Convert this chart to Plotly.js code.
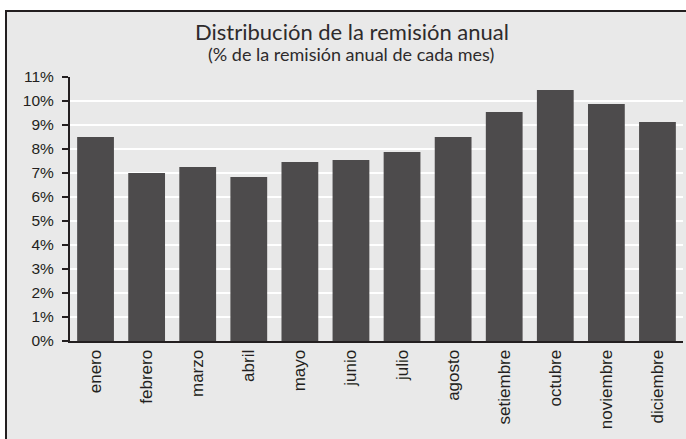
<!DOCTYPE html>
<html>
<head>
<meta charset="utf-8">
<script src="https://cdn.plot.ly/plotly-3.0.1.min.js"></script>
<style>
html, body { margin: 0; padding: 0; background: #ffffff; }
#frame { position: absolute; left: 5px; top: 10px; width: 700px; height: 450px;
  background: #e9e9e9; border-left: 2px solid #231f20; border-top: 2px solid #231f20; }
#chart { position: absolute; left: 0; top: 0; width: 686px; height: 439px; }
</style>
</head>
<body>
<div id="frame"></div>
<div id="chart"></div>
<script>
var months = ["enero", "febrero", "marzo", "abril", "mayo", "junio", "julio",
  "agosto", "setiembre", "octubre", "noviembre", "diciembre"];
var shares = [8.5, 7.0, 7.25, 6.83, 7.46, 7.54, 7.88, 8.5, 9.54, 10.46, 9.88, 9.13];
var yTicks = [0, 1, 2, 3, 4, 5, 6, 7, 8, 9, 10, 11];
var titleText = "Distribución de la remisión anual";
var subtitleText = "(% de la remisión anual de cada mes)";

var trace = {
  type: "bar",
  x: months,
  y: shares,
  marker: { color: "#4d4b4c", line: { width: 0 } },
  hoverinfo: "x+y"
};

var layout = {
  width: 686,
  height: 439,
  margin: { l: 70, r: 3, t: 77, b: 98 },
  paper_bgcolor: "rgba(0,0,0,0)",
  plot_bgcolor: "rgba(0,0,0,0)",
  showlegend: false,
  bargap: 0.28,
  font: { family: "Liberation Sans, Arial, sans-serif", color: "#231f20" },
  title: {
    text: titleText,
    font: { family: "Lato, sans-serif", size: 22, weight: 400, color: "#2e2b2c" },
    xref: "container", x: 352 / 686, xanchor: "center",
    yref: "container", y: 1 - 32 / 439, yanchor: "middle"
  },
  annotations: [{
    text: subtitleText,
    xref: "paper", x: (351 - 70) / 613, xanchor: "center",
    yref: "paper", y: 1 + (77 - 54) / 264, yanchor: "middle",
    showarrow: false,
    font: { family: "Lato, sans-serif", size: 18, weight: 400, color: "#2e2b2c" }
  }],
  xaxis: {
    type: "category",
    showline: true, linecolor: "#231f20", linewidth: 2,
    ticks: "", showgrid: false,
    tickangle: -90,
    tickfont: { family: "Liberation Sans, Arial, sans-serif", size: 17, color: "#231f20" },
    fixedrange: true
  },
  yaxis: {
    range: [0, 11],
    tickvals: yTicks,
    ticktext: yTicks.map(function (v) { return v + "%"; }),
    showline: true, linecolor: "#231f20", linewidth: 2,
    ticks: "outside", ticklen: 6, tickwidth: 2, tickcolor: "#231f20",
    ticklabelstandoff: 5,
    showgrid: true, gridcolor: "#ffffff", gridwidth: 2,
    zeroline: false,
    tickfont: { family: "Liberation Sans, Arial, sans-serif", size: 15.5, color: "#231f20" },
    fixedrange: true
  }
};

Plotly.newPlot("chart", [trace], layout, { displayModeBar: false, staticPlot: true });
</script>
</body>
</html>
